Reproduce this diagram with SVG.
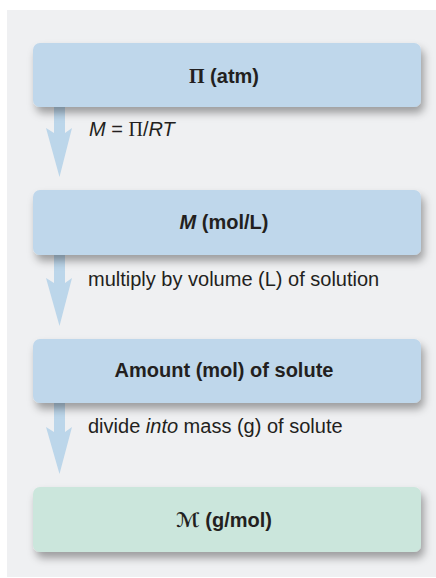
<svg xmlns="http://www.w3.org/2000/svg" width="436" height="578" viewBox="0 0 436 578">
<style>
.box{fill:#bfd7eb}
.box2{fill:#cbe6dc}
.t{font-family:"Liberation Sans",Arial,sans-serif;font-size:20px;font-weight:bold;fill:#231f20;text-anchor:middle}
.l{font-family:"Liberation Sans",Arial,sans-serif;font-size:20px;fill:#231f20}
.arr{fill:#bcd6ea}
.sym{font-family:"Liberation Serif","Times New Roman",serif}
</style>
<defs>
<filter id="sh" x="-10%" y="-30%" width="125%" height="190%">
<feDropShadow dx="3" dy="6" stdDeviation="4" flood-color="#000" flood-opacity="0.35"/>
</filter>
</defs>
<rect x="7" y="10" width="429" height="567" fill="#eff0f2"/>
<g id="connectors">
<polygon class="arr" points="54,107 65,107 65,133 72,128 59.5,177 46,128 54,133"/>
<polygon class="arr" points="54,255 65,255 65,283 72,278 59.5,326 46,278 54,283"/>
<polygon class="arr" points="54,403 65,403 65,432 72,427 59.5,474 46,427 54,432"/>
</g>
<g id="node-pressure">
<rect class="box" x="33" y="43" width="388" height="64" rx="7" filter="url(#sh)"/>
<text class="t" x="224" y="83"><tspan class="sym">Π</tspan> (atm)</text>
</g>
<g id="label-1"><text class="l" x="89" y="136"><tspan font-style="italic">M</tspan> = <tspan class="sym">Π</tspan>/<tspan font-style="italic">RT</tspan></text></g>
<g id="node-molarity">
<rect class="box" x="33" y="190" width="388" height="65" rx="7" filter="url(#sh)"/>
<text class="t" x="224" y="229"><tspan font-style="italic">M</tspan> (mol/L)</text>
</g>
<g id="label-2"><text class="l" x="88" y="286">multiply by volume (L) of solution</text></g>
<g id="node-amount">
<rect class="box" x="33" y="339" width="388" height="64" rx="7" filter="url(#sh)"/>
<text class="t" x="224" y="377">Amount (mol) of solute</text>
</g>
<g id="label-3"><text class="l" x="88" y="433">divide <tspan font-style="italic">into</tspan> mass (g) of solute</text></g>
<g id="node-molarmass">
<rect class="box2" x="33" y="487" width="388" height="65" rx="7" filter="url(#sh)"/>
<text class="t" x="224" y="527"><tspan font-family="'DejaVu Sans',sans-serif" font-style="italic">ℳ</tspan> (g/mol)</text>
</g>
</svg>
